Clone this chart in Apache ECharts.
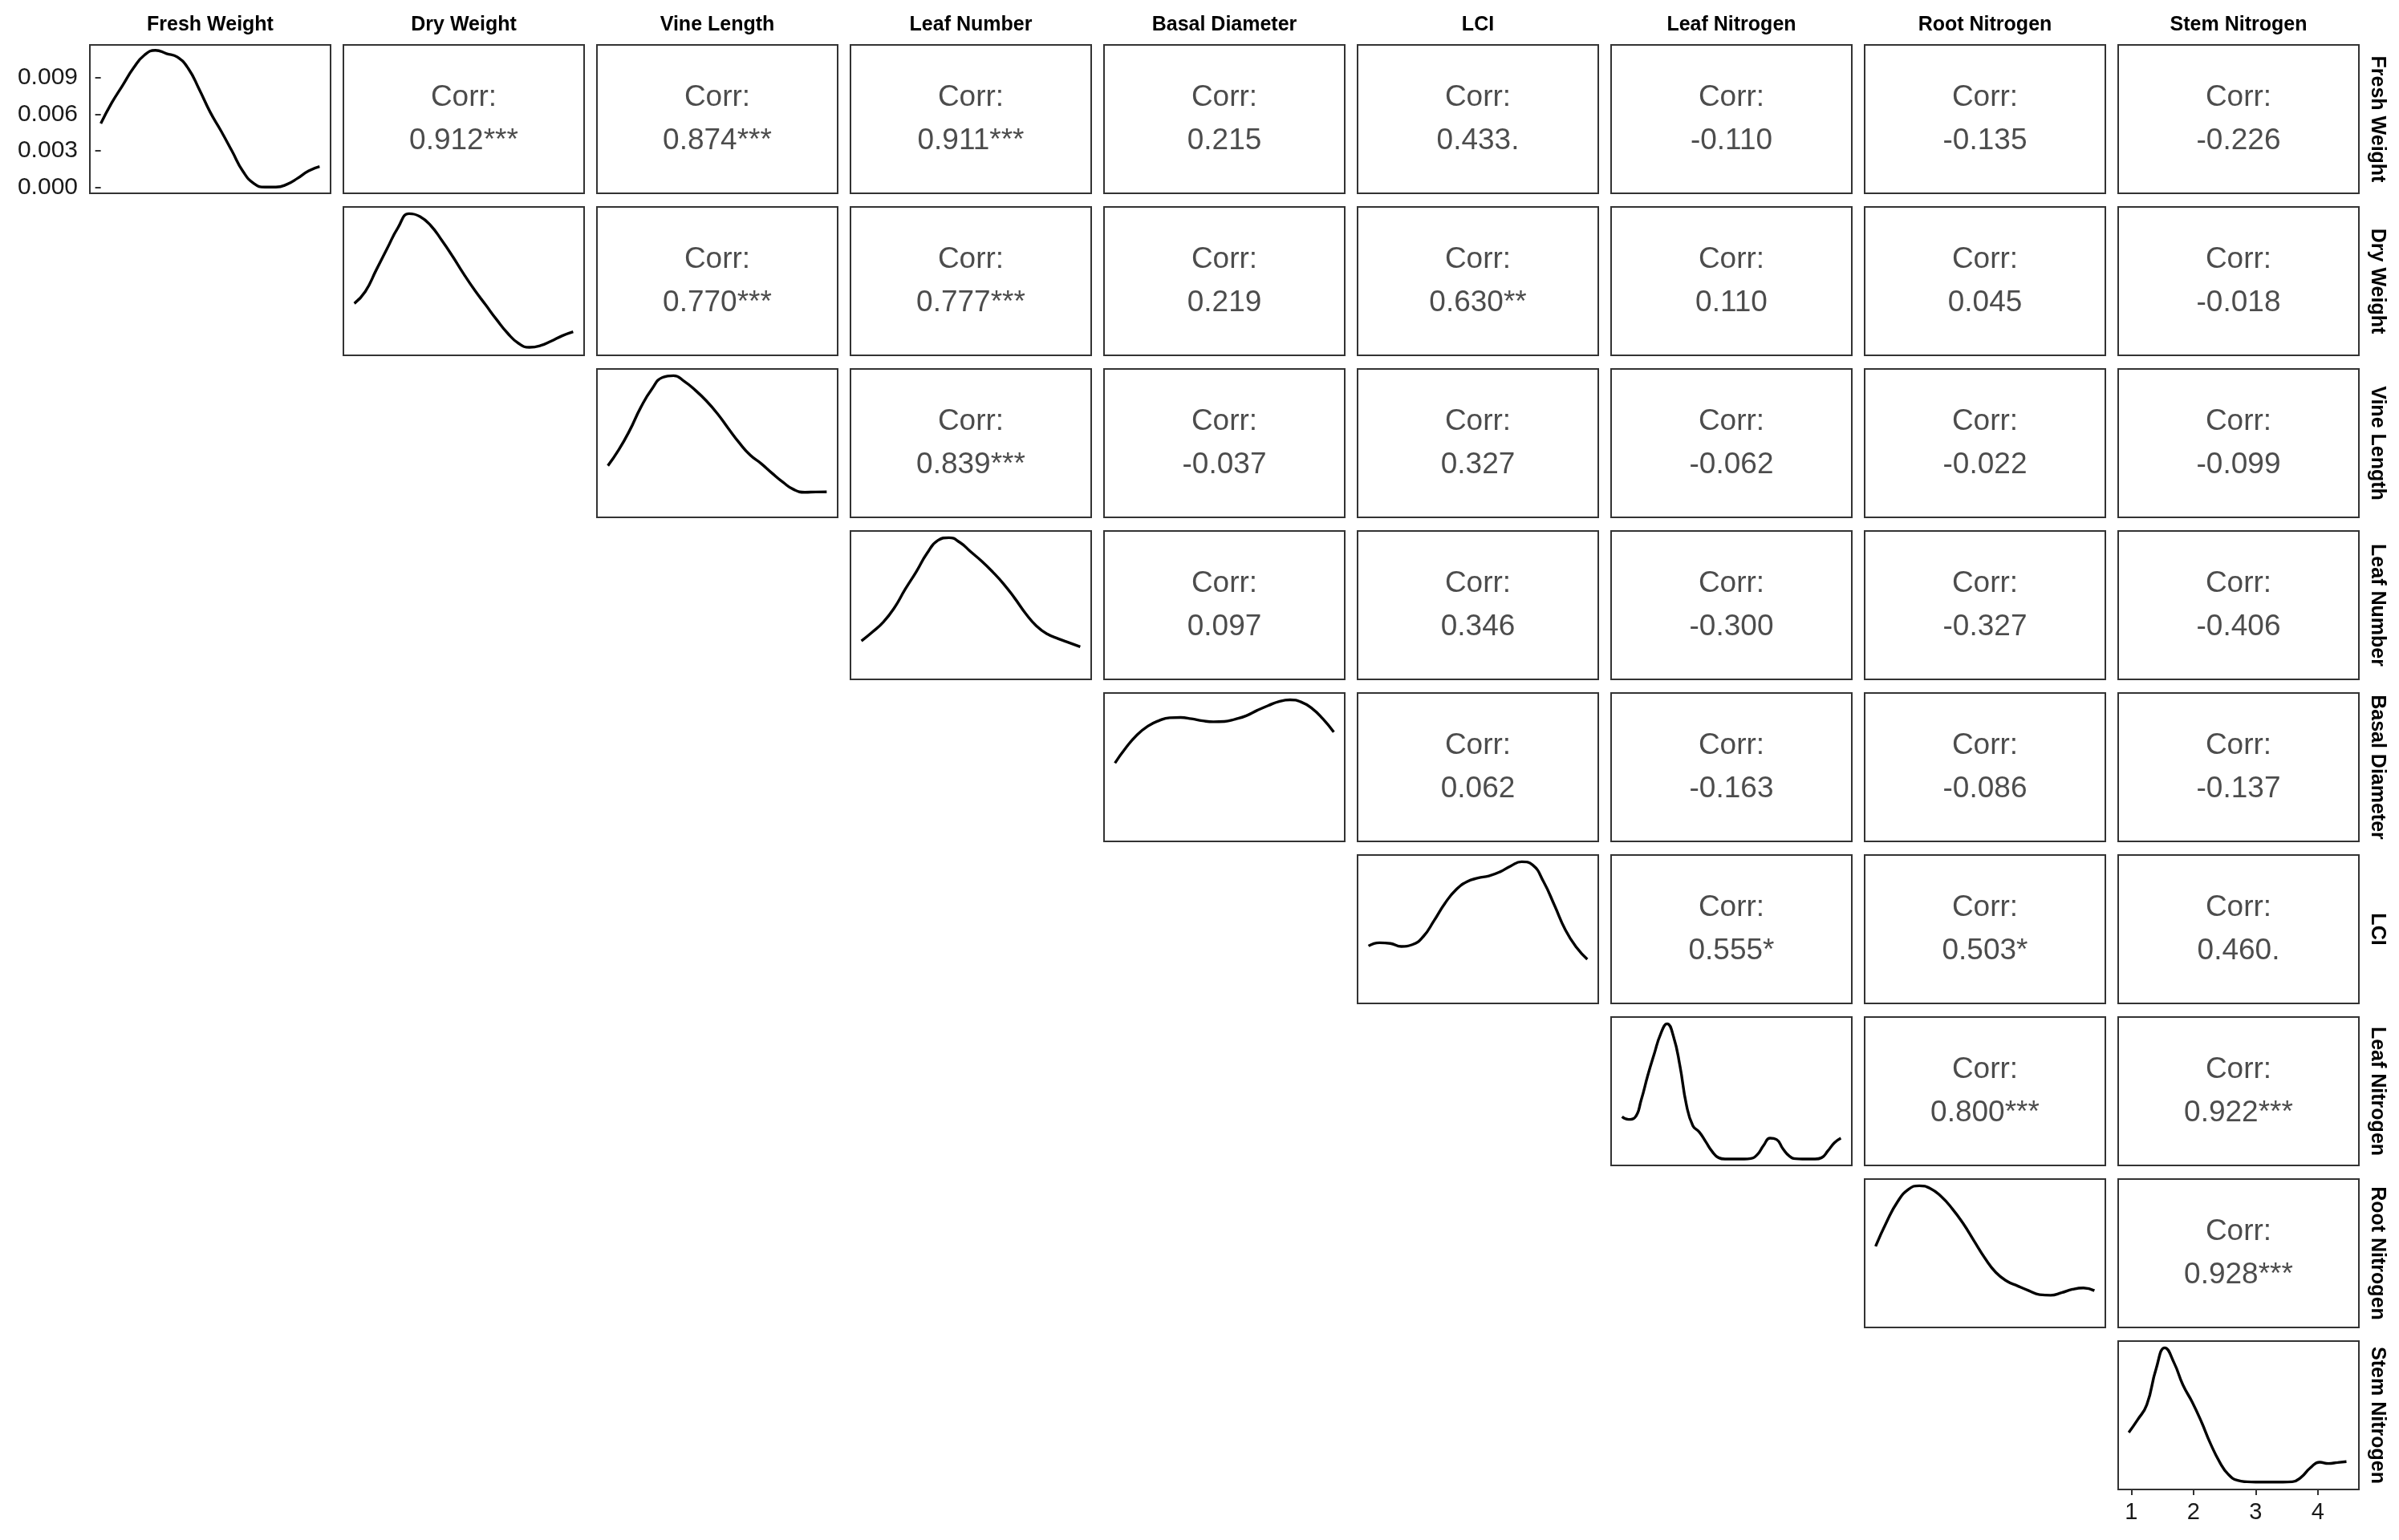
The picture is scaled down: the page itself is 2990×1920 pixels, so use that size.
<!DOCTYPE html>
<html>
<head>
<meta charset="utf-8">
<script src="https://cdn.jsdelivr.net/npm/echarts@6/dist/echarts.min.js"></script>
<style>
  html, body { margin: 0; padding: 0; background: #fff; }
  #chart { width: 2990px; height: 1920px; }
</style>
</head>
<body>
<div id="chart"></div>
<script>
// variables, used for the column strips (top) and row strips (right)
const vars = ['Fresh Weight', 'Dry Weight', 'Vine Length', 'Leaf Number', 'Basal Diameter',
  'LCI', 'Leaf Nitrogen', 'Root Nitrogen', 'Stem Nitrogen']

// diagonal densities, evenly sampled across each variable's range
// fresh weight is in density units (its axis is shown), the others as share of panel height
const freshWeight = [0.00523, 0.00693, 0.00837, 0.00980, 0.01086, 0.01124, 0.01097, 0.01068, 0.00974, 0.00803,
  0.00616, 0.00461, 0.00296, 0.00130, 0.00031, 0.00002, 0.00002, 0.00024, 0.00075, 0.00135, 0.00170]
const dryWeight = [0.349, 0.430, 0.575, 0.720, 0.862, 0.955, 0.935, 0.873, 0.774, 0.665,
  0.548, 0.439, 0.340, 0.241, 0.150, 0.081, 0.054, 0.065, 0.096, 0.132, 0.159]
const vineLength = [0.348, 0.456, 0.587, 0.740, 0.862, 0.943, 0.955, 0.916, 0.856, 0.785,
  0.700, 0.600, 0.503, 0.420, 0.363, 0.298, 0.237, 0.187, 0.169, 0.171, 0.172]
const leafNumber = [0.259, 0.319, 0.386, 0.481, 0.607, 0.724, 0.850, 0.937, 0.955, 0.923,
  0.859, 0.796, 0.724, 0.643, 0.548, 0.445, 0.360, 0.305, 0.274, 0.247, 0.220]
const basalDiameter = [0.528, 0.631, 0.716, 0.776, 0.813, 0.833, 0.835, 0.826, 0.813, 0.806,
  0.808, 0.824, 0.847, 0.883, 0.915, 0.943, 0.954, 0.940, 0.897, 0.826, 0.737]
const lci = [0.387, 0.409, 0.404, 0.384, 0.396, 0.450, 0.559, 0.676, 0.766, 0.820,
  0.845, 0.859, 0.886, 0.926, 0.955, 0.933, 0.820, 0.661, 0.495, 0.378, 0.297]
const leafNitrogen = [0.328, 0.310, 0.323, 0.445, 0.607, 0.751, 0.886, 0.955, 0.868, 0.670,
  0.409, 0.268, 0.225, 0.160, 0.094, 0.052, 0.043, 0.043, 0.043, 0.043,
  0.047, 0.072, 0.135, 0.184, 0.175, 0.112, 0.063, 0.045, 0.043, 0.043,
  0.043, 0.052, 0.099, 0.153, 0.184]
const rootNitrogen = [0.547, 0.710, 0.846, 0.931, 0.955, 0.937, 0.882, 0.801, 0.701, 0.583,
  0.466, 0.370, 0.312, 0.279, 0.248, 0.221, 0.217, 0.234, 0.257, 0.266, 0.248]
const stemNitrogenX = [0.96, 1.10, 1.25, 1.40, 1.54, 1.69, 1.83, 1.98, 2.13, 2.27, 2.42, 2.56, 2.71,
  2.86, 3.00, 3.15, 3.30, 3.44, 3.59, 3.73, 3.88, 4.03, 4.17, 4.32, 4.46]
const stemNitrogen = [0.384, 0.468, 0.571, 0.814, 0.955, 0.852, 0.705, 0.589, 0.454, 0.313, 0.186, 0.102, 0.061,
  0.052, 0.050, 0.050, 0.050, 0.050, 0.052, 0.082, 0.146, 0.184, 0.175, 0.182, 0.188]

const densities = [freshWeight, dryWeight, vineLength, leafNumber, basalDiameter, lci, leafNitrogen, rootNitrogen, stemNitrogen]

// upper triangle: correlation of row variable with each later column
const corrValues = [
  [0.912, 0.874, 0.911, 0.215, 0.433, -0.110, -0.135, -0.226],
  [0.770, 0.777, 0.219, 0.630, 0.110, 0.045, -0.018],
  [0.839, -0.037, 0.327, -0.062, -0.022, -0.099],
  [0.097, 0.346, -0.300, -0.327, -0.406],
  [0.062, -0.163, -0.086, -0.137],
  [0.555, 0.503, 0.460],
  [0.800, 0.922],
  [0.928]
]
const corrStars = [
  ['***', '***', '***', '', '.', '', '', ''],
  ['***', '***', '', '**', '', '', ''],
  ['***', '', '', '', '', ''],
  ['', '', '', '', ''],
  ['', '', '', ''],
  ['*', '*', '.'],
  ['***', '***'],
  ['***']
]

// tick labels of the two visible axes
const densityTicks = [0, 0.003, 0.006, 0.009]
const stemTicks = [1, 2, 3, 4]

const FONT = '"Liberation Sans", Arial, sans-serif'
const LEFT = 112, TOP = 56, STEP_X = 316, STEP_Y = 202, W = 300, H = 185
const hidden = { show: false }
const stripText = { fontFamily: FONT, fontWeight: 'bold', fontSize: 25, color: '#000' }
const tickStyle = { show: true, length: 7, lineStyle: { color: '#333', width: 2 } }

let grid = [], xAxis = [], yAxis = [], series = []

function addPanel(row, col) {
  let idx = grid.length
  grid.push({
    left: LEFT + STEP_X * col, top: TOP + STEP_Y * row, width: W, height: H,
    show: true, borderColor: '#333', borderWidth: 2, backgroundColor: '#fff'
  })
  let x = { type: 'value', gridIndex: idx, min: 0, max: 1, axisLine: hidden, axisTick: hidden, axisLabel: hidden, splitLine: hidden }
  let y = { type: 'value', gridIndex: idx, min: 0, max: 1, axisLine: hidden, axisTick: hidden, axisLabel: hidden, splitLine: hidden }
  // column strip above the first row
  if (row === 0) {
    Object.assign(x, { position: 'top', name: vars[col], nameLocation: 'middle', nameGap: 12, nameTextStyle: stripText })
  }
  // row strip right of the last column
  if (col === 8) {
    Object.assign(y, { position: 'right', name: vars[row], nameLocation: 'middle', nameRotate: -90, nameGap: 10, nameTextStyle: stripText })
  }
  xAxis.push(x)
  yAxis.push(y)
  return idx
}

// diagonal: density lines
densities.forEach((vals, i) => {
  let idx = addPanel(i, i)
  let data
  if (i === 8) {
    data = stemNitrogenX.map((v, k) => [v, vals[k]])
    Object.assign(xAxis[idx], {
      min: 0.79, max: 4.66,
      axisTick: Object.assign({ customValues: stemTicks }, tickStyle),
      axisLabel: { show: true, customValues: stemTicks, margin: 14, fontSize: 29, color: '#1a1a1a', fontFamily: FONT }
    })
  } else {
    let n = vals.length - 1
    data = vals.map((v, k) => [k, v])
    Object.assign(xAxis[idx], { min: -0.05 * n, max: n * 1.05 })
  }
  if (i === 0) {
    Object.assign(yAxis[idx], {
      min: -0.00049, max: 0.01168,
      axisTick: Object.assign({ customValues: densityTicks }, tickStyle),
      axisLabel: {
        show: true, customValues: densityTicks, margin: 15, fontSize: 30, color: '#1a1a1a', fontFamily: FONT,
        formatter: v => v.toFixed(3)
      }
    })
  }
  series.push({
    type: 'line', xAxisIndex: idx, yAxisIndex: idx, data: data,
    smooth: 0.5, showSymbol: false, silent: true,
    lineStyle: { color: '#000', width: 3.4 }
  })
})

// upper triangle: correlation text
corrValues.forEach((rowVals, i) => {
  rowVals.forEach((v, k) => {
    let j = i + 1 + k
    let idx = addPanel(i, j)
    series.push({
      type: 'scatter', xAxisIndex: idx, yAxisIndex: idx, symbolSize: 0, silent: true,
      data: [[0.5, 0.5]],
      label: {
        show: true, position: 'inside',
        formatter: 'Corr:\n' + v.toFixed(3) + corrStars[i][k],
        fontFamily: FONT, fontSize: 37, lineHeight: 54, color: '#1f1f1f'
      }
    })
  })
})

let myChart = echarts.init(document.getElementById('chart'), null, { renderer: 'canvas' })
myChart.setOption({
  backgroundColor: '#fff',
  animation: false,
  grid: grid,
  xAxis: xAxis,
  yAxis: yAxis,
  series: series
})
</script>
</body>
</html>
